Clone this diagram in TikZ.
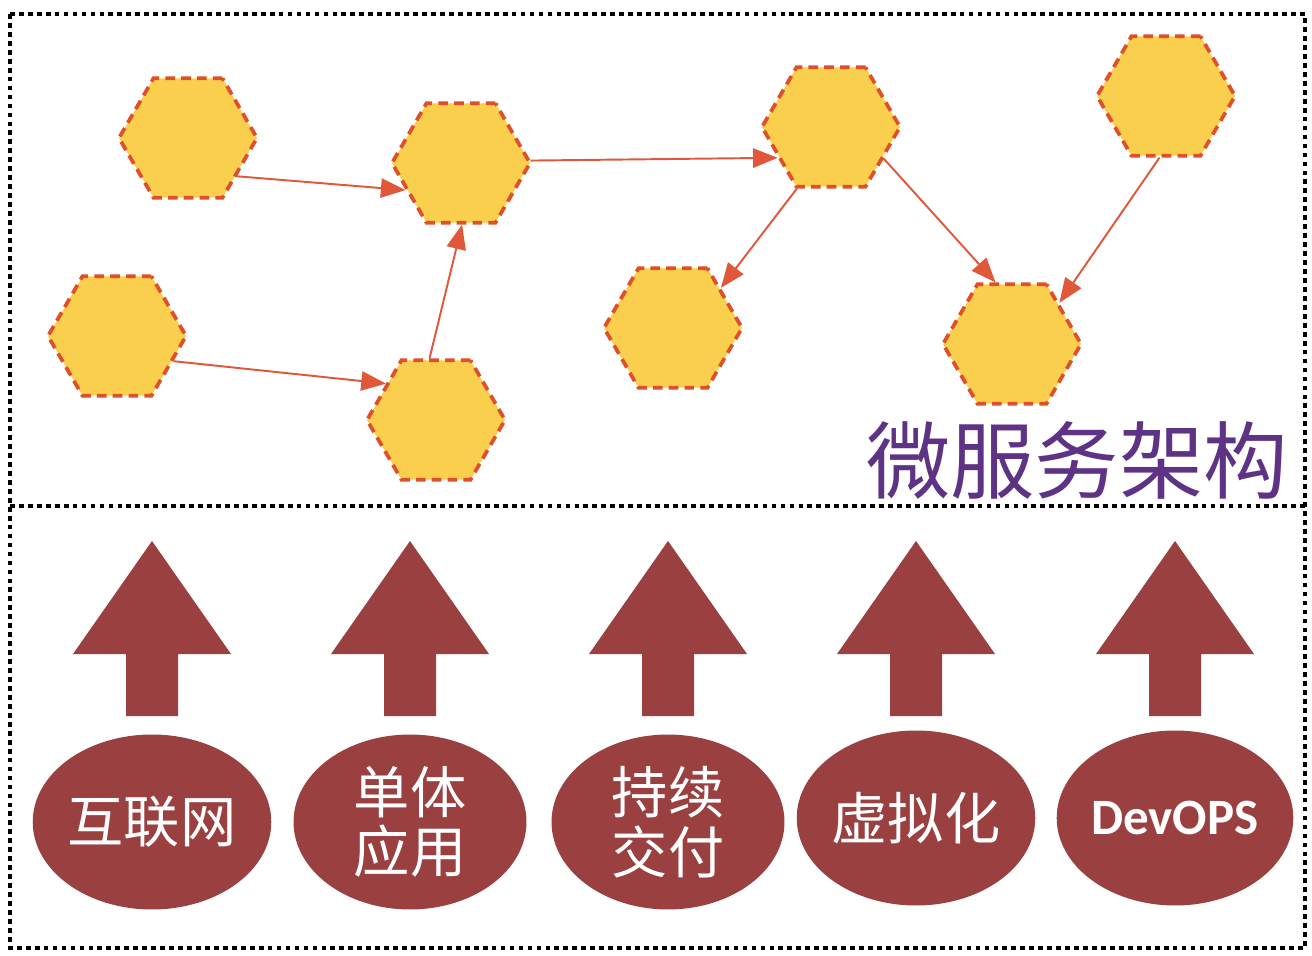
\documentclass[tikz,border=0pt]{standalone}
\usepackage{fontspec}
\newfontfamily\cjk{Noto Sans CJK SC}
\newfontfamily\calibri{Carlito}
\usetikzlibrary{shapes.geometric,arrows.meta}
\definecolor{hexfill}{HTML}{FBCF4E}
\definecolor{hexline}{HTML}{DE4F2A}
\definecolor{linkred}{HTML}{E0573A}
\definecolor{basered}{HTML}{9A4040}
\definecolor{titlepurple}{HTML}{5E3284}
\tikzset{
  svc/.style={draw=hexline, fill=hexfill, regular polygon, regular polygon sides=6,
    minimum size=2.76cm, inner sep=0pt, line width=2.1pt, dash pattern=on 5.5pt off 3.5pt},
  link/.style={draw=linkred, line width=1.1pt, -{Triangle[length=14pt,width=11pt]}},
  driver/.style={ellipse, fill=basered, minimum width=4.66cm, minimum height=3.5cm,
    inner sep=0pt, text=white, align=center, font=\cjk\fontsize{32}{35}\selectfont},
  frame/.style={draw=black, line width=2.2pt, dash pattern=on 2.7pt off 2.4pt}
}
\begin{document}
\begin{tikzpicture}[x={(0.02cm,0)}, y={(0,-0.02cm)}]
\useasboundingbox (0,0) rectangle (1312,956);
\draw[frame] (10,14) rectangle (1305,948);
\draw[frame] (10,506) -- (1305,506);
% services
\node[svc] (h1) at (188,138) {};
\node[svc] (h2) at (461,163) {};
\node[svc] (h3) at (117,336) {};
\node[svc] (h4) at (436,420) {};
\node[svc] (h5) at (831,127) {};
\node[svc] (h6) at (673,328) {};
\node[svc] (h7) at (1166,96) {};
\node[svc] (h8) at (1012,344) {};
\path[link] (h1.-38) -- (h2.206);
\path[link] (h3.-24) -- (h4.144);
\path[link] (h4.96) -- (h2.-89);
\path[link] (h2.2) -- (h5.210);
\path[link] (h5.-119) -- (h6.40);
\path[link] (h5.-31) -- (h8.105);
\path[link] (h7.-96) -- (h8.41);
\node[text=titlepurple, font=\cjk\fontsize{48}{52}\selectfont] (title) at (1077,460) {微服务架构};
% drivers
\foreach \x in {152,410,668,916,1175}
  \fill[basered] (\x,541) -- (\x+79,654) -- (\x+26,654) -- (\x+26,716)
    -- (\x-26,716) -- (\x-26,654) -- (\x-79,654) -- cycle;
\node[driver] (web) at (152,822) {互联网};
\node[driver, font=\cjk\fontsize{32}{34}\selectfont] (mono) at (410,822) {单体\\应用};
\node[driver, font=\cjk\fontsize{32}{34}\selectfont] (cd) at (668,822) {持续\\交付};
\node[driver] (virt) at (916,818) {虚拟化};
\node[driver, font=\calibri\bfseries\fontsize{29}{33}\selectfont] (devops) at (1175,818) {DevOPS};
\end{tikzpicture}
\end{document}
